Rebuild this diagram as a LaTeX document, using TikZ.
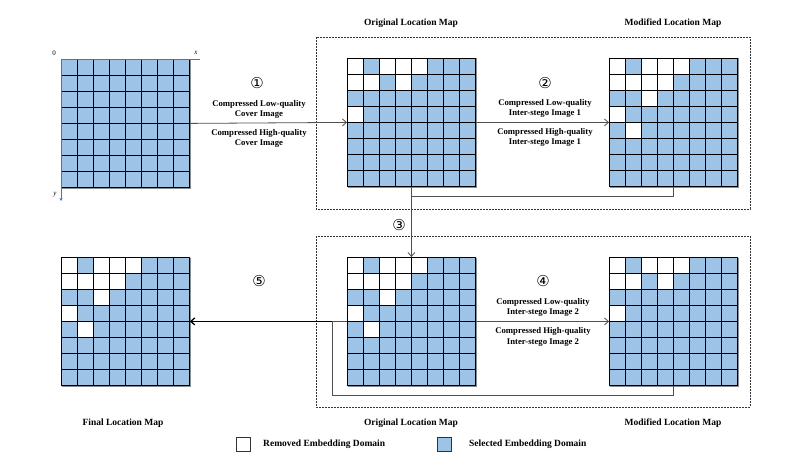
\documentclass[tikz,border=0pt]{standalone}
\usepackage{fontspec}
\setmainfont{Liberation Serif}
\newfontfamily\dejavu{DejaVu Sans}
\usetikzlibrary{arrows.meta}
\definecolor{cellblue}{HTML}{9DC3E6}
\definecolor{axisblue}{HTML}{4472C4}
\definecolor{conn}{HTML}{505050}
% #1 name, #2 x, #3 y (top-left), #4 list of col/row white cells
\newcommand{\mapgrid}[3]{%
  \node[gridbox] (#1) at (#2+64.4,#3+64.4) {};
  \fill[cellblue] (#2,#3) rectangle ++(128.8,128.8);
}
\newcommand{\maplines}[2]{%
  \draw[black!45,line width=1.6pt] (#1+129.4,#2+0.5) -- ++(0,128.9) -- ++(-128.8,0);
  \foreach \k in {0,...,8} {%
    \draw[cellline] (#1+\k*16.1,#2) -- ++(0,128.8);
    \draw[cellline] (#1,#2+\k*16.1) -- ++(128.8,0);
  }%
}
\newcommand{\locmap}[4]{%
  \mapgrid{#1}{#2}{#3}%
  \foreach \c/\r in {#4} {\fill[white] (#2+\c*16.1,#3+\r*16.1) rectangle ++(16.1,16.1);}%
  \maplines{#2}{#3}%
}
\begin{document}
\begin{tikzpicture}[x=1pt,y=-1pt,
  gridbox/.style={minimum width=128.8pt,minimum height=128.8pt,inner sep=0pt,outer sep=0pt},
  cellline/.style={black,line width=0.9pt},
  connector/.style={draw=conn,line width=0.8pt},
  arrowtip/.style={-{Straight Barb[length=4pt,width=7pt]}},
  lbl/.style={font=\bfseries\fontsize{8.7}{10.8}\selectfont,align=center,inner sep=0pt},
  maptitle/.style={font=\bfseries\fontsize{9.5}{11}\selectfont,inner sep=0pt},
  num/.style={font=\dejavu\fontsize{15}{15}\selectfont,inner sep=0pt},
  frame/.style={draw=black!80,dash pattern=on 1.6pt off 1.4pt,line width=0.7pt},
  axislbl/.style={font=\fontsize{7}{7}\selectfont,inner sep=0pt}
]
\useasboundingbox (0,0) rectangle (811,468);

% dashed frames
\draw[frame] (316,37) rectangle (750,209);
\draw[frame] (316,236) rectangle (750,407);

% grids
\mapgrid{g1}{61}{59}\maplines{61}{59}
\locmap{g2}{347}{58}{0/0,2/0,3/0,4/0,0/1,1/1,3/1,0/3}
\locmap{g3}{609}{58}{0/0,2/0,3/0,4/0,0/1,1/1,2/1,3/1,2/2,0/3,1/4}
\locmap{g4}{61}{257}{0/0,2/0,3/0,4/0,0/1,1/1,2/1,3/1,2/2,0/3,1/4}
\locmap{g5}{347}{257}{0/0,2/0,3/0,4/0,0/1,1/1,2/1,3/1,2/2,0/3,1/4}
\locmap{g6}{609}{257}{0/0,2/0,3/0,4/0,0/1,1/1,3/1,0/3}

% axes on first grid
\draw[axisblue,line width=0.9pt] (g1.north west) -- ++(139,0);
\draw[axisblue,line width=0.9pt,-{Stealth[length=3pt,width=3pt]}] (g1.north west) -- ++(0,142);
\node[axislbl] (o) at (54,53) {0};
\node[axislbl] (xl) at (196,53) {\itshape x};
\node[axislbl] (yl) at (55,195) {\itshape y};

% connectors
\draw[connector,arrowtip] (g1.east) -- (g2.west);
\draw[connector,arrowtip] (g2.east) -- (g3.west);
\draw[connector,arrowtip] (g2.south) -- (g5.north);
\draw[connector] (g3.south) -- ++(0,10) -| (g2.south);
\draw[connector,arrowtip] (g5.east) -- (g6.west);
\coordinate (m) at (332,321.4);
\draw[connector] (g6.south) -- ++(0,9.2) -| (m) -- (g5.west);
\draw[black,line width=1.3pt,arrowtip] (m) -- (g4.east);

% step numbers
\node[num] (n1) at (257,83) {①};
\node[num] (n2) at (545,83) {②};
\node[num] (n3) at (399,225) {③};
\node[num] (n4) at (543,281) {④};
\node[num] (n5) at (259,281) {⑤};

% arrow labels
\node[lbl] (l1a) at (259,109.5) {Compressed Low-quality\\Cover Image};
\node[lbl] (l1b) at (259,138.5) {Compressed High-quality\\Cover Image};
\node[lbl] (l2a) at (545,108.5) {Compressed Low-quality\\Inter-stego Image 1};
\node[lbl] (l2b) at (545,137.5) {Compressed High-quality\\Inter-stego Image 1};
\node[lbl] (l4a) at (543,307.5) {Compressed Low-quality\\Inter-stego Image 2};
\node[lbl] (l4b) at (543,337) {Compressed High-quality\\Inter-stego Image 2};

% titles
\node[maptitle] (t1) at (411,23) {Original Location Map};
\node[maptitle] (t2) at (673,23) {Modified Location Map};
\node[maptitle] (t3) at (123,423) {Final Location Map};
\node[maptitle] (t4) at (411,423) {Original Location Map};
\node[maptitle] (t5) at (673,423) {Modified Location Map};

% legend
\draw[black!80,line width=0.7pt,fill=white] (236,437) rectangle (250,451);
\node[maptitle,anchor=west] (lg1) at (263,444) {Removed Embedding Domain};
\draw[black!80,line width=0.7pt,fill=cellblue] (437,437) rectangle (451,451);
\node[maptitle,anchor=west] (lg2) at (469,444) {Selected Embedding Domain};
\end{tikzpicture}
\end{document}
